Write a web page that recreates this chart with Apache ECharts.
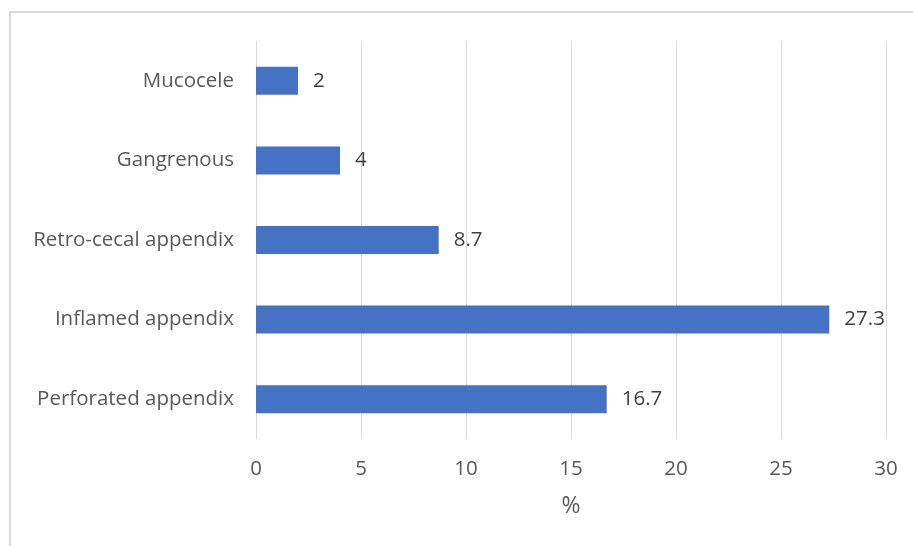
<!DOCTYPE html>
<html><head><meta charset="utf-8">
<script src="https://cdn.jsdelivr.net/npm/echarts@6/dist/echarts.min.js"></script>
<style>html,body{margin:0;padding:0;background:#fff}#c{width:913px;height:546px}</style>
</head><body><div id="c"></div>
<script>
const categories = ["Perforated appendix", "Inflamed appendix", "Retro-cecal appendix", "Gangrenous", "Mucocele"];
const values = [16.7, 27.3, 8.7, 4, 2];
const axisTitle = "%";

const chart = echarts.init(document.getElementById('c'), null, {renderer: 'canvas'});
const font = "'Open Sans', 'Noto Sans', sans-serif";
chart.setOption({
  animation: false,
  backgroundColor: '#ffffff',
  graphic: [{
    type: 'rect', shape: {x: 10, y: 12, width: 1000, height: 600},
    style: {fill: 'none', stroke: '#d9d9d9', lineWidth: 2}, silent: true
  }],
  grid: {left: 256, right: 27, top: 41, bottom: 107, containLabel: false},
  xAxis: {
    type: 'value', min: 0, max: 30, interval: 5,
    name: axisTitle, nameLocation: 'middle', nameGap: 56,
    nameTextStyle: {color: '#595959', fontSize: 23, fontFamily: font},
    axisLine: {show: false}, axisTick: {show: false},
    axisLabel: {color: '#595959', fontSize: 20.5, fontFamily: font, margin: 20},
    splitLine: {lineStyle: {color: '#d9d9d9', width: 1}}
  },
  yAxis: {
    type: 'category', data: categories,
    axisLine: {show: true, lineStyle: {color: '#d9d9d9', width: 1}},
    axisTick: {show: false},
    axisLabel: {color: '#595959', fontSize: 20.5, fontFamily: font, margin: 22}
  },
  series: [{
    type: 'bar', data: values, barWidth: 28,
    itemStyle: {color: '#4472c4'},
    label: {show: true, position: 'right', distance: 15, color: '#404040', fontSize: 20.5, fontFamily: font}
  }]
});
</script></body></html>
